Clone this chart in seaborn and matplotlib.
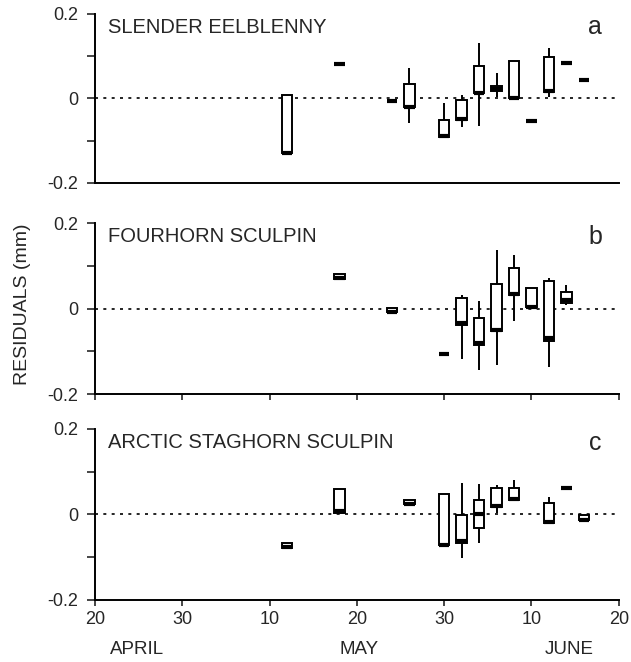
"""
plot.py
───────
Residuals of size-at-date for three fish species (box plots by date).
Saves out.png.
"""

import numpy as np
import pandas as pd
import matplotlib
matplotlib.use("Agg")
import matplotlib.pyplot as plt
import matplotlib.transforms as mtransforms
import seaborn as sns


# ─── Data (days after 20 April, residuals in mm) ──────────────────────────────

species = ["SLENDER EELBLENNY", "FOURHORN SCULPIN", "ARCTIC STAGHORN SCULPIN"]
panel_letters = ["a", "b", "c"]

days_a = [22, 28, 34, 36, 40, 42, 44, 46, 48, 50, 52, 54, 56]
lo_a   = [-0.130, 0.081, -0.007, -0.058, -0.091, -0.068, -0.064, 0.004, 0.002, -0.053, 0.004, 0.083, 0.044]
q1_a   = [-0.130, 0.081, -0.007, -0.021, -0.091, -0.050, 0.012, 0.018, 0.002, -0.053, 0.016, 0.083, 0.044]
med_a  = [-0.130, 0.081, -0.007, -0.020, -0.088, -0.048, 0.014, 0.022, 0.002, -0.053, 0.018, 0.083, 0.044]
q3_a   = [0.008, 0.081, -0.007, 0.034, -0.050, -0.004, 0.076, 0.030, 0.089, -0.053, 0.097, 0.083, 0.044]
hi_a   = [0.008, 0.081, -0.007, 0.073, -0.010, 0.008, 0.131, 0.061, 0.089, -0.053, 0.119, 0.083, 0.044]

days_b = [28, 34, 40, 42, 44, 46, 48, 50, 52, 54]
lo_b   = [0.070, -0.008, -0.107, -0.117, -0.144, -0.133, -0.029, 0.004, -0.137, 0.009]
q1_b   = [0.070, -0.008, -0.107, -0.039, -0.085, -0.053, 0.032, 0.004, -0.075, 0.014]
med_b  = [0.071, -0.007, -0.107, -0.035, -0.080, -0.050, 0.035, 0.004, -0.070, 0.020]
q3_b   = [0.080, 0.002, -0.107, 0.024, -0.021, 0.058, 0.094, 0.048, 0.064, 0.038]
hi_b   = [0.080, 0.002, -0.107, 0.032, 0.018, 0.136, 0.125, 0.048, 0.072, 0.054]

days_c = [22, 28, 36, 40, 42, 44, 46, 48, 52, 54, 56]
lo_c   = [-0.078, 0.004, 0.024, -0.072, -0.101, -0.066, 0.003, 0.033, -0.021, 0.061, -0.014]
q1_c   = [-0.078, 0.004, 0.024, -0.072, -0.066, -0.032, 0.017, 0.033, -0.021, 0.061, -0.014]
med_c  = [-0.077, 0.008, 0.025, -0.072, -0.062, 0.000, 0.020, 0.036, -0.018, 0.061, -0.013]
q3_c   = [-0.067, 0.060, 0.035, 0.048, -0.002, 0.033, 0.061, 0.063, 0.027, 0.061, -0.002]
hi_c   = [-0.067, 0.060, 0.035, 0.048, 0.073, 0.071, 0.069, 0.081, 0.040, 0.061, -0.002]

x_ticks       = [0, 10, 20, 30, 40, 50, 60]
x_tick_labels = ["20", "30", "10", "20", "30", "10", "20"]
months        = ["APRIL", "MAY", "JUNE"]
month_days    = [4.8, 30.3, 54.3]

y_ticks       = [-0.2, -0.1, 0, 0.1, 0.2]
y_tick_labels = ["-0.2", "", "0", "", "0.2"]


def long_table(days, lo, q1, med, q3, hi):
    """Five summary values per date -> long table; with whis=(0, 100) seaborn
    reproduces exactly these quartiles / whisker ends."""
    rows = []
    for d, *vals in zip(days, lo, q1, med, q3, hi):
        for v in vals:
            rows.append({"day": d, "resid": v})
    return pd.DataFrame(rows)


# ─── Plotting ─────────────────────────────────────────────────────────────────

def draw_panel(ax, df, title, letter, xticks_on, xlabels_on):
    ax.axhline(0, color="black", lw=1.2, ls=(0, (1.8, 3.2)), zorder=0.5)

    sns.boxplot(data=df, x="day", y="resid", native_scale=True,
                whis=(0, 100), width=0.6, color="white", linecolor="black",
                linewidth=1.4, showcaps=False, fliersize=0,
                medianprops={"linewidth": 3.0, "color": "black"}, ax=ax)

    ax.set_xlim(0, 60)
    ax.set_ylim(-0.2, 0.2)
    ax.set_yticks(y_ticks)
    ax.set_yticklabels(y_tick_labels)
    ax.set_xticks(x_ticks)
    ax.set_xticklabels(x_tick_labels if xlabels_on else [])
    ax.set_xlabel("")
    ax.set_ylabel("")

    ax.tick_params(axis="y", length=6, width=1.2, pad=6, labelsize=13)
    ax.tick_params(axis="x", length=4 if xticks_on else 0, width=1.2,
                   pad=4, labelsize=13)

    for s in ["top", "right"]:
        ax.spines[s].set_visible(False)
    for s in ["left", "bottom"]:
        ax.spines[s].set_linewidth(1.4)
        ax.spines[s].set_color("black")

    ax.text(0.025, 0.92, title, transform=ax.transAxes, fontsize=14.5,
            ha="left", va="center")
    ax.text(0.955, 0.92, letter, transform=ax.transAxes, fontsize=18,
            ha="center", va="center")


def main():
    sns.set_style("ticks")
    plt.rcParams["font.family"] = ["Liberation Sans", "DejaVu Sans"]

    fig = plt.figure(figsize=(6.31, 6.62), dpi=100)
    left, width = 0.1506, 0.830
    axes = [
        fig.add_axes([left, 0.7236, width, 0.2553]),
        fig.add_axes([left, 0.4048, width, 0.2583]),
        fig.add_axes([left, 0.0937, width, 0.2583]),
    ]

    tables = [
        long_table(days_a, lo_a, q1_a, med_a, q3_a, hi_a),
        long_table(days_b, lo_b, q1_b, med_b, q3_b, hi_b),
        long_table(days_c, lo_c, q1_c, med_c, q3_c, hi_c),
    ]

    for i, (ax, df) in enumerate(zip(axes, tables)):
        draw_panel(ax, df, species[i], panel_letters[i],
                   xticks_on=(i > 0), xlabels_on=(i == 2))

    # month names under the bottom axis
    trans = mtransforms.blended_transform_factory(axes[2].transData, fig.transFigure)
    for m, d in zip(months, month_days):
        axes[2].text(d, 0.019, m, transform=trans, fontsize=13.5,
                     ha="center", va="center")

    fig.text(0.036, 0.54, "RESIDUALS (mm)", rotation=90, fontsize=14,
             ha="center", va="center")

    fig.savefig("out.png", dpi=100)
    plt.close(fig)


if __name__ == "__main__":
    main()
